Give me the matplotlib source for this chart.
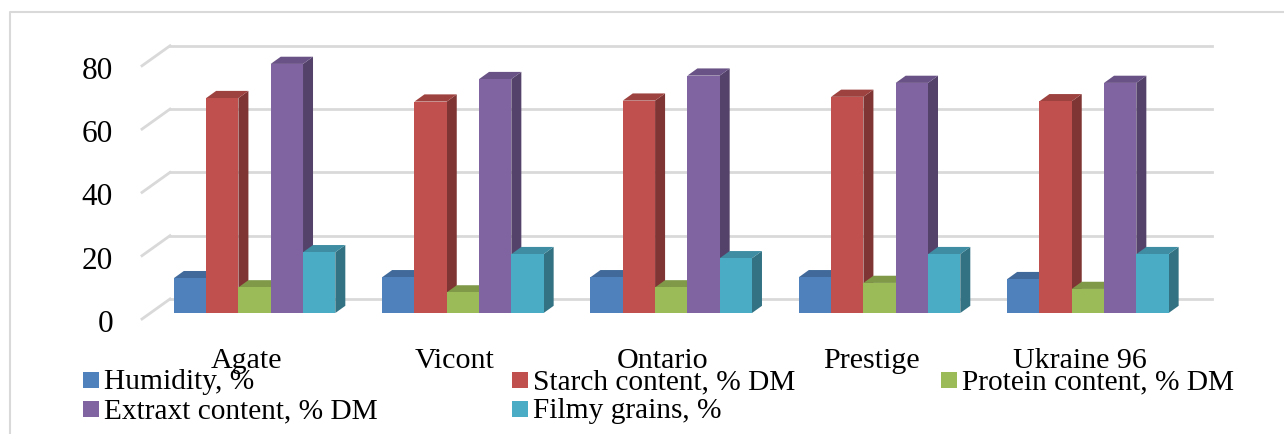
import numpy as np
import matplotlib.pyplot as plt
from matplotlib.patches import Polygon, Rectangle
from matplotlib.lines import Line2D
from matplotlib.colors import to_rgb

plt.rcParams['font.family'] = ['Liberation Serif', 'DejaVu Serif']

varieties = ['Agate', 'Vicont', 'Ontario', 'Prestige', 'Ukraine 96']
series = ['Humidity, %', 'Starch content, % DM', 'Protein content, % DM',
          'Extraxt content, % DM', 'Filmy grains, %']
humidity = [11.0, 11.3, 11.3, 11.3, 10.7]
starch = [67.9, 66.8, 67.1, 68.3, 66.9]
protein = [8.1, 6.5, 8.1, 9.5, 7.6]
extract = [78.7, 73.9, 75.0, 72.7, 72.7]
filmy = [19.2, 18.6, 17.3, 18.6, 18.6]
yticks = [0, 20, 40, 60, 80]

values = [humidity, starch, protein, extract, filmy]
colors = ['#4F81BD', '#C0504D', '#9BBB59', '#8064A2', '#4BACC6']

# page geometry (pixels) of the pseudo-3d chart
W, H = 1284, 435
x0_px = 150.4      # left edge of the plane the bars stand in
cat_px = 208.33    # width of one category
zero_px = 314.0    # baseline of bar fronts
unit_px = 3.165    # pixels per value unit

bar_w = 32.3 / cat_px
dx, dy = 10 / cat_px, 7.2 / unit_px          # bar depth
bdx, bdy = 19.6 / cat_px, 14 / unit_px       # back wall offset
fdx, fdy = -8.4 / cat_px, -6 / unit_px       # front edge of floor

fig = plt.figure(figsize=(W / 100, H / 100), dpi=100)
ax = fig.add_axes([0, 0, 1, 1])
ax.set_xlim(-0.5 - x0_px / cat_px, -0.5 + (W - x0_px) / cat_px)
ax.set_ylim((zero_px - H) / unit_px, zero_px / unit_px)
ax.axis('off')

grid_c = '#d9d9d9'
n = len(varieties)
for t in yticks:
    ax.plot([-0.5 + bdx, n - 0.5 + bdx], [t + bdy, t + bdy], color=grid_c, lw=2, zorder=1)
    ax.plot([-0.5 + fdx, -0.5 + bdx], [t + fdy, t + bdy], color=grid_c, lw=2, zorder=1)
    ax.text(-0.5 + (113 - x0_px) / cat_px, t + fdy - 1.4, str(t), ha='right', va='center',
            fontsize=22.5, color='black')

x = np.arange(n)
for k, (vals, c) in enumerate(zip(values, colors)):
    rgb = np.array(to_rgb(c))
    side_c = rgb * 0.66
    top_c = rgb * 0.82
    xs = x + (k - 2) * bar_w
    bars = ax.bar(xs, vals, width=bar_w, color=c, zorder=11 + 2 * k, linewidth=0)
    for b in bars:
        l, r, h = b.get_x(), b.get_x() + b.get_width(), b.get_height()
        ax.add_patch(Polygon([(r, 0), (r + dx, dy), (r + dx, h + dy), (r, h)],
                             facecolor=side_c, edgecolor='none', zorder=10 + 2 * k))
        ax.add_patch(Polygon([(l, h), (r, h), (r + dx, h + dy), (l + dx, h + dy)],
                             facecolor=top_c, edgecolor='none', zorder=10 + 2 * k))

for i, name in enumerate(varieties):
    ax.text(i + fdx, (zero_px - 368) / unit_px, name, ha='center', va='baseline',
            fontsize=21.6, color='black', zorder=30)

# legend: three columns, two rows
col_px = [83, 512, 941]
row_px = [389, 418]
for j, (label, c) in enumerate(zip(series, colors)):
    cx = col_px[j % 3]
    ry = row_px[j // 3]
    fig.patches.append(Rectangle((cx / W, 1 - ry / H), 16 / W, 16 / H, transform=fig.transFigure,
                                 facecolor=c, edgecolor='none', zorder=20))
    fig.text((cx + 21) / W, 1 - ry / H, label, ha='left', va='baseline', fontsize=21.2,
             color='black', zorder=21)

# outer chart frame
fig.lines.append(Line2D([10 / W, 10 / W, 1.0], [0.0, 1 - 13 / H, 1 - 13 / H],
                        transform=fig.transFigure, color=grid_c, lw=1.5))

fig.savefig('out.png', dpi=100, facecolor='white')
